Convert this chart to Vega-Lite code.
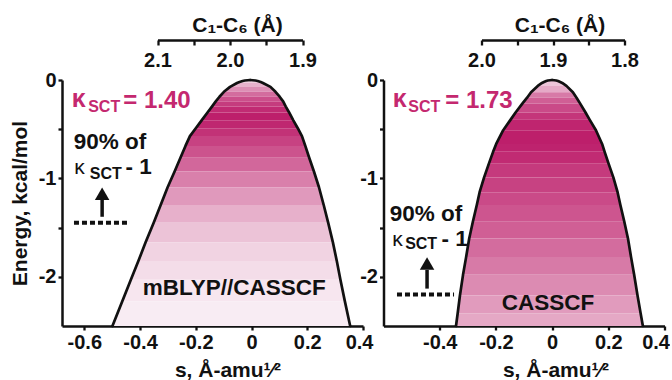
{
  "$schema": "https://vega.github.io/schema/vega-lite/v6.json",
  "padding": {"left": 9, "top": 14, "right": 0, "bottom": 0},
  "background": "white",
  "bounds": "flush",
  "spacing": 20.5,
  "config": {
    "font": "Liberation Sans",
    "view": {"stroke": null},
    "axis": {
      "labelFont": "Liberation Sans", "labelFontSize": 20, "labelFontWeight": "bold", "labelColor": "#111111",
      "titleFont": "Liberation Sans", "titleFontSize": 21, "titleFontWeight": "bold", "titleColor": "#111111",
      "domainColor": "#111111", "domainWidth": 2.5, "tickColor": "#111111", "tickWidth": 2.3, "tickSize": 4,
      "grid": false, "labelFlush": false, "labelOverlap": false, "labelPadding": 2
    }
  },
  "datasets": {
    "bandsA": [
      {"b": 1, "E": 0, "l": -0.005, "r": -0.005, "w": 0.15},
      {"b": 1, "E": -0.005, "l": -0.024, "r": 0.014, "w": 0.15},
      {"b": 1, "E": -0.01, "l": -0.032, "r": 0.022, "w": 0.15},
      {"b": 1, "E": -0.02, "l": -0.043, "r": 0.033, "w": 0.15},
      {"b": 1, "E": -0.03, "l": -0.052, "r": 0.041, "w": 0.15},
      {"b": 2, "E": -0.03, "l": -0.052, "r": 0.041, "w": 0.29},
      {"b": 2, "E": -0.07, "l": -0.077, "r": 0.068, "w": 0.29},
      {"b": 3, "E": -0.07, "l": -0.077, "r": 0.068, "w": 0.46},
      {"b": 3, "E": -0.12, "l": -0.099, "r": 0.086, "w": 0.46},
      {"b": 4, "E": -0.12, "l": -0.099, "r": 0.086, "w": 0.63},
      {"b": 4, "E": -0.17, "l": -0.115, "r": 0.101, "w": 0.63},
      {"b": 5, "E": -0.17, "l": -0.115, "r": 0.101, "w": 0.77},
      {"b": 5, "E": -0.22, "l": -0.129, "r": 0.114, "w": 0.77},
      {"b": 6, "E": -0.22, "l": -0.129, "r": 0.114, "w": 0.86},
      {"b": 6, "E": -0.27, "l": -0.142, "r": 0.123, "w": 0.86},
      {"b": 7, "E": -0.27, "l": -0.142, "r": 0.123, "w": 0.94},
      {"b": 7, "E": -0.33, "l": -0.158, "r": 0.135, "w": 0.94},
      {"b": 8, "E": -0.33, "l": -0.158, "r": 0.135, "w": 1.0},
      {"b": 8, "E": -0.41, "l": -0.179, "r": 0.150, "w": 1.0},
      {"b": 9, "E": -0.41, "l": -0.179, "r": 0.150, "w": 0.96},
      {"b": 9, "E": -0.49, "l": -0.200, "r": 0.166, "w": 0.96},
      {"b": 10, "E": -0.49, "l": -0.200, "r": 0.166, "w": 0.91},
      {"b": 10, "E": -0.57, "l": -0.221, "r": 0.181, "w": 0.91},
      {"b": 11, "E": -0.57, "l": -0.221, "r": 0.181, "w": 0.83},
      {"b": 11, "E": -0.67, "l": -0.237, "r": 0.193, "w": 0.83},
      {"b": 12, "E": -0.67, "l": -0.237, "r": 0.193, "w": 0.75},
      {"b": 12, "E": -0.79, "l": -0.255, "r": 0.207, "w": 0.75},
      {"b": 13, "E": -0.79, "l": -0.255, "r": 0.207, "w": 0.65},
      {"b": 13, "E": -0.93, "l": -0.276, "r": 0.224, "w": 0.65},
      {"b": 14, "E": -0.93, "l": -0.276, "r": 0.224, "w": 0.53},
      {"b": 14, "E": -1.09, "l": -0.301, "r": 0.242, "w": 0.53},
      {"b": 15, "E": -1.09, "l": -0.301, "r": 0.242, "w": 0.41},
      {"b": 15, "E": -1.27, "l": -0.326, "r": 0.259, "w": 0.41},
      {"b": 16, "E": -1.27, "l": -0.326, "r": 0.259, "w": 0.30},
      {"b": 16, "E": -1.45, "l": -0.351, "r": 0.275, "w": 0.30},
      {"b": 17, "E": -1.45, "l": -0.351, "r": 0.275, "w": 0.21},
      {"b": 17, "E": -1.65, "l": -0.380, "r": 0.292, "w": 0.21},
      {"b": 18, "E": -1.65, "l": -0.380, "r": 0.292, "w": 0.13},
      {"b": 18, "E": -1.84, "l": -0.406, "r": 0.306, "w": 0.13},
      {"b": 19, "E": -1.84, "l": -0.406, "r": 0.306, "w": 0.08},
      {"b": 19, "E": -2.03, "l": -0.433, "r": 0.319, "w": 0.08},
      {"b": 20, "E": -2.03, "l": -0.433, "r": 0.319, "w": 0.04},
      {"b": 20, "E": -2.25, "l": -0.464, "r": 0.335, "w": 0.04},
      {"b": 21, "E": -2.25, "l": -0.464, "r": 0.335, "w": 0.01},
      {"b": 21, "E": -2.5, "l": -0.499, "r": 0.354, "w": 0.01}
    ],
    "bandsB": [
      {"b": 1, "E": 0, "l": 0, "r": 0, "w": 0.2},
      {"b": 1, "E": -0.005, "l": -0.015, "r": 0.015, "w": 0.2},
      {"b": 1, "E": -0.01, "l": -0.021, "r": 0.021, "w": 0.2},
      {"b": 1, "E": -0.02, "l": -0.029, "r": 0.029, "w": 0.2},
      {"b": 1, "E": -0.03, "l": -0.036, "r": 0.036, "w": 0.2},
      {"b": 1, "E": -0.06, "l": -0.051, "r": 0.051, "w": 0.2},
      {"b": 2, "E": -0.06, "l": -0.051, "r": 0.051, "w": 0.33},
      {"b": 2, "E": -0.125, "l": -0.075, "r": 0.074, "w": 0.33},
      {"b": 3, "E": -0.125, "l": -0.075, "r": 0.074, "w": 0.56},
      {"b": 3, "E": -0.18, "l": -0.089, "r": 0.087, "w": 0.56},
      {"b": 4, "E": -0.18, "l": -0.089, "r": 0.087, "w": 0.69},
      {"b": 4, "E": -0.24, "l": -0.106, "r": 0.100, "w": 0.69},
      {"b": 5, "E": -0.24, "l": -0.106, "r": 0.100, "w": 0.79},
      {"b": 5, "E": -0.33, "l": -0.130, "r": 0.119, "w": 0.79},
      {"b": 6, "E": -0.33, "l": -0.130, "r": 0.119, "w": 0.89},
      {"b": 6, "E": -0.40, "l": -0.147, "r": 0.133, "w": 0.89},
      {"b": 7, "E": -0.40, "l": -0.147, "r": 0.133, "w": 0.97},
      {"b": 7, "E": -0.51, "l": -0.174, "r": 0.156, "w": 0.97},
      {"b": 8, "E": -0.51, "l": -0.174, "r": 0.156, "w": 1.0},
      {"b": 8, "E": -0.65, "l": -0.199, "r": 0.178, "w": 1.0},
      {"b": 9, "E": -0.65, "l": -0.199, "r": 0.178, "w": 0.98},
      {"b": 9, "E": -0.73, "l": -0.210, "r": 0.187, "w": 0.98},
      {"b": 10, "E": -0.73, "l": -0.210, "r": 0.187, "w": 0.94},
      {"b": 10, "E": -0.85, "l": -0.225, "r": 0.201, "w": 0.94},
      {"b": 11, "E": -0.85, "l": -0.225, "r": 0.201, "w": 0.87},
      {"b": 11, "E": -0.99, "l": -0.242, "r": 0.218, "w": 0.87},
      {"b": 12, "E": -0.99, "l": -0.242, "r": 0.218, "w": 0.83},
      {"b": 12, "E": -1.14, "l": -0.258, "r": 0.233, "w": 0.83},
      {"b": 13, "E": -1.14, "l": -0.258, "r": 0.233, "w": 0.79},
      {"b": 13, "E": -1.27, "l": -0.268, "r": 0.243, "w": 0.79},
      {"b": 14, "E": -1.27, "l": -0.268, "r": 0.243, "w": 0.74},
      {"b": 14, "E": -1.44, "l": -0.282, "r": 0.257, "w": 0.74},
      {"b": 15, "E": -1.44, "l": -0.282, "r": 0.257, "w": 0.69},
      {"b": 15, "E": -1.61, "l": -0.295, "r": 0.270, "w": 0.69},
      {"b": 16, "E": -1.61, "l": -0.295, "r": 0.270, "w": 0.63},
      {"b": 16, "E": -1.80, "l": -0.306, "r": 0.281, "w": 0.63},
      {"b": 17, "E": -1.80, "l": -0.306, "r": 0.281, "w": 0.56},
      {"b": 17, "E": -1.98, "l": -0.317, "r": 0.292, "w": 0.56},
      {"b": 18, "E": -1.98, "l": -0.317, "r": 0.292, "w": 0.48},
      {"b": 18, "E": -2.19, "l": -0.328, "r": 0.304, "w": 0.48},
      {"b": 19, "E": -2.19, "l": -0.328, "r": 0.304, "w": 0.40},
      {"b": 19, "E": -2.37, "l": -0.336, "r": 0.315, "w": 0.40},
      {"b": 20, "E": -2.37, "l": -0.336, "r": 0.315, "w": 0.34},
      {"b": 20, "E": -2.5, "l": -0.342, "r": 0.323, "w": 0.34}
    ],
    "notesA": [
      {"t": "κ", "s": -0.645, "E": -0.274, "role": "kap", "tone": "m"},
      {"t": "SCT", "s": -0.586, "E": -0.327, "role": "sub", "tone": "m"},
      {"t": "= 1.40", "s": -0.46, "E": -0.284, "role": "val", "tone": "m"},
      {"t": "90% of", "s": -0.638, "E": -0.699, "role": "big", "tone": "k"},
      {"t": "κ", "s": -0.636, "E": -0.952, "role": "kapk", "tone": "k"},
      {"t": "SCT", "s": -0.58, "E": -1.003, "role": "sub", "tone": "k"},
      {"t": "- 1", "s": -0.452, "E": -0.952, "role": "big", "tone": "k"},
      {"t": "mBLYP//CASSCF", "s": -0.39, "E": -2.188, "role": "big", "tone": "k"}
    ],
    "notesB": [
      {"t": "κ", "s": -0.567, "E": -0.274, "role": "kap", "tone": "m"},
      {"t": "SCT", "s": -0.512, "E": -0.327, "role": "sub", "tone": "m"},
      {"t": "= 1.73", "s": -0.38, "E": -0.284, "role": "val", "tone": "m"},
      {"t": "90% of", "s": -0.578, "E": -1.429, "role": "big", "tone": "k"},
      {"t": "κ", "s": -0.569, "E": -1.682, "role": "kapk", "tone": "k"},
      {"t": "SCT", "s": -0.523, "E": -1.722, "role": "sub", "tone": "k"},
      {"t": "- 1", "s": -0.394, "E": -1.682, "role": "big", "tone": "k"},
      {"t": "CASSCF", "s": -0.179, "E": -2.34, "role": "big", "tone": "k"}
    ],
    "arrowA": [
      {"k": "dash", "s": -0.637, "s2": -0.436, "E": -1.45},
      {"k": "shaft", "s": -0.536, "E": -1.39, "E2": -1.2},
      {"k": "head", "s": -0.536, "E": -1.155}
    ],
    "arrowB": [
      {"k": "dash", "s": -0.552, "s2": -0.349, "E": -2.18},
      {"k": "shaft", "s": -0.445, "E": -2.12, "E2": -1.93},
      {"k": "head", "s": -0.445, "E": -1.865}
    ],
    "axisA": [{"d": 2.1}, {"d": 1.9}],
    "axisB": [{"d": 2.0}, {"d": 1.8}]
  },
  "hconcat": [
    {
      "width": 301,
      "height": 246,
      "resolve": {"scale": {"x": "independent"}, "axis": {"x": "independent"}},
      "layer": [
        {
          "layer": [
            {
              "data": {"name": "bandsA"},
              "mark": {"type": "area", "orient": "horizontal"},
              "encoding": {
                "y": {"field": "E", "type": "quantitative", "scale": {"domain": [-2.5, 0], "nice": false, "zero": false},
                      "axis": {"title": "Energy, kcal/mol", "values": [0, -0.5, -1, -1.5, -2], "titlePadding": 8,
                               "labelExpr": "datum.value % 1 == 0 ? replace(format(datum.value, 'd'), '\u2212', '-') : ''"}},
                "x": {"field": "l", "type": "quantitative", "stack": null, "scale": {"domain": [-0.68, 0.4], "nice": false, "zero": false},
                      "axis": {"title": "s, Å-amu¹⁄²", "values": [-0.6, -0.4, -0.2, 0, 0.2, 0.4],
                               "labelExpr": "replace(format(datum.value, '.1~f'), '\u2212', '-')",
                               "labelFlush": true, "labelFlushOffset": 10,
                               "titleX": 165.5, "titleY": 50, "titleBaseline": "alphabetic", "titleAlign": "center"}},
                "x2": {"field": "r"},
                "detail": {"field": "b", "type": "nominal"},
                "color": {"field": "w", "type": "quantitative", "legend": null,
                          "scale": {"domain": [0, 1], "range": ["#f9eef4", "#bd1f6b"], "interpolate": "rgb"}}
              }
            },
            {
              "data": {"name": "bandsA"},
              "transform": [{"fold": ["l", "r"], "as": ["side", "s"]}],
              "mark": {"type": "line", "color": "#111111", "strokeWidth": 2.7, "strokeCap": "round", "strokeJoin": "round"},
              "encoding": {
                "x": {"field": "s", "type": "quantitative"},
                "y": {"field": "E", "type": "quantitative"},
                "detail": {"field": "side", "type": "nominal"},
                "order": {"field": "E", "type": "quantitative"}
              }
            },
            {
              "data": {"name": "arrowA"},
              "transform": [{"filter": "datum.k == 'dash'"}],
              "mark": {"type": "rule", "color": "#111111", "strokeWidth": 4, "strokeDash": [5, 3]},
              "encoding": {
                "x": {"field": "s", "type": "quantitative"},
                "x2": {"field": "s2"},
                "y": {"field": "E", "type": "quantitative"}
              }
            },
            {
              "data": {"name": "arrowA"},
              "transform": [{"filter": "datum.k == 'shaft'"}],
              "mark": {"type": "rule", "color": "#111111", "strokeWidth": 3.5},
              "encoding": {
                "x": {"field": "s", "type": "quantitative"},
                "y": {"field": "E", "type": "quantitative"},
                "y2": {"field": "E2"}
              }
            },
            {
              "data": {"name": "arrowA"},
              "transform": [{"filter": "datum.k == 'head'"}],
              "mark": {"type": "point", "shape": "triangle-up", "filled": true, "size": 210, "color": "#111111", "opacity": 1},
              "encoding": {
                "x": {"field": "s", "type": "quantitative"},
                "y": {"field": "E", "type": "quantitative"}
              }
            },
            {
              "data": {"name": "notesA"},
              "transform": [{"filter": "datum.role == 'kap'"}],
              "mark": {"type": "text", "align": "left", "baseline": "alphabetic", "fontSize": 25, "fontWeight": "bold", "font": "Liberation Sans"},
              "encoding": {
                "x": {"field": "s", "type": "quantitative"},
                "y": {"field": "E", "type": "quantitative"},
                "text": {"field": "t"},
                "color": {"condition": {"test": "datum.tone == 'm'", "value": "#c4286f"}, "value": "#111111"}
              }
            },
            {
              "data": {"name": "notesA"},
              "transform": [{"filter": "datum.role == 'kapk'"}],
              "mark": {"type": "text", "align": "left", "baseline": "alphabetic", "fontSize": 21, "fontWeight": "normal", "font": "Liberation Sans"},
              "encoding": {
                "x": {"field": "s", "type": "quantitative"},
                "y": {"field": "E", "type": "quantitative"},
                "text": {"field": "t"},
                "color": {"condition": {"test": "datum.tone == 'm'", "value": "#c4286f"}, "value": "#111111"}
              }
            },
            {
              "data": {"name": "notesA"},
              "transform": [{"filter": "datum.role == 'sub'"}],
              "mark": {"type": "text", "align": "left", "baseline": "alphabetic", "fontSize": 16, "fontWeight": "bold", "font": "Liberation Sans"},
              "encoding": {
                "x": {"field": "s", "type": "quantitative"},
                "y": {"field": "E", "type": "quantitative"},
                "text": {"field": "t"},
                "color": {"condition": {"test": "datum.tone == 'm'", "value": "#c4286f"}, "value": "#111111"}
              }
            },
            {
              "data": {"name": "notesA"},
              "transform": [{"filter": "datum.role == 'val'"}],
              "mark": {"type": "text", "align": "left", "baseline": "alphabetic", "fontSize": 24, "fontWeight": "bold", "font": "Liberation Sans"},
              "encoding": {
                "x": {"field": "s", "type": "quantitative"},
                "y": {"field": "E", "type": "quantitative"},
                "text": {"field": "t"},
                "color": {"condition": {"test": "datum.tone == 'm'", "value": "#c4286f"}, "value": "#111111"}
              }
            },
            {
              "data": {"name": "notesA"},
              "transform": [{"filter": "datum.role == 'big'"}],
              "mark": {"type": "text", "align": "left", "baseline": "alphabetic", "fontSize": 22.5, "fontWeight": "bold", "font": "Liberation Sans"},
              "encoding": {
                "x": {"field": "s", "type": "quantitative"},
                "y": {"field": "E", "type": "quantitative"},
                "text": {"field": "t"},
                "color": {"condition": {"test": "datum.tone == 'm'", "value": "#c4286f"}, "value": "#111111"}
              }
            }
          ]
        },
        {
          "data": {"name": "axisA"},
          "mark": {"type": "point", "opacity": 0},
          "encoding": {
            "x": {"field": "d", "type": "quantitative",
                  "scale": {"domain": [2.1, 1.9], "range": [95.5, 240.5], "nice": false, "zero": false},
                  "axis": {"orient": "top", "offset": 40, "values": [2.1, 2.05, 2.0, 1.95, 1.9],
                           "labelExpr": "datum.value == 2.05 || datum.value == 1.95 ? '' : format(datum.value, '.1f')",
                           "tickSize": -5, "labelBaseline": "top", "labelPadding": -5,
                           "title": "C₁-C₆ (Å)", "titleX": 175, "titleY": -9, "titleBaseline": "alphabetic", "titleAlign": "center"}}
          }
        }
      ]
    },
    {
      "width": 281,
      "height": 246,
      "resolve": {"scale": {"x": "independent"}, "axis": {"x": "independent"}},
      "layer": [
        {
          "layer": [
            {
              "data": {"name": "bandsB"},
              "mark": {"type": "area", "orient": "horizontal"},
              "encoding": {
                "y": {"field": "E", "type": "quantitative", "scale": {"domain": [-2.5, 0], "nice": false, "zero": false},
                      "axis": {"title": null, "values": [0, -0.5, -1, -1.5, -2],
                               "labelExpr": "datum.value % 1 == 0 ? replace(format(datum.value, 'd'), '\u2212', '-') : ''"}},
                "x": {"field": "l", "type": "quantitative", "stack": null, "scale": {"domain": [-0.6, 0.4], "nice": false, "zero": false},
                      "axis": {"title": "s, Å-amu¹⁄²", "values": [-0.4, -0.2, 0, 0.2, 0.4],
                               "labelExpr": "replace(format(datum.value, '.1~f'), '\u2212', '-')",
                               "labelFlush": true, "labelFlushOffset": 5,
                               "titleX": 172, "titleY": 50, "titleBaseline": "alphabetic", "titleAlign": "center"}},
                "x2": {"field": "r"},
                "detail": {"field": "b", "type": "nominal"},
                "color": {"field": "w", "type": "quantitative", "legend": null,
                          "scale": {"domain": [0, 1], "range": ["#f9eef4", "#bd1f6b"], "interpolate": "rgb"}}
              }
            },
            {
              "data": {"name": "bandsB"},
              "transform": [{"fold": ["l", "r"], "as": ["side", "s"]}],
              "mark": {"type": "line", "color": "#111111", "strokeWidth": 2.7, "strokeCap": "round", "strokeJoin": "round"},
              "encoding": {
                "x": {"field": "s", "type": "quantitative"},
                "y": {"field": "E", "type": "quantitative"},
                "detail": {"field": "side", "type": "nominal"},
                "order": {"field": "E", "type": "quantitative"}
              }
            },
            {
              "data": {"name": "arrowB"},
              "transform": [{"filter": "datum.k == 'dash'"}],
              "mark": {"type": "rule", "color": "#111111", "strokeWidth": 4, "strokeDash": [5, 3]},
              "encoding": {
                "x": {"field": "s", "type": "quantitative"},
                "x2": {"field": "s2"},
                "y": {"field": "E", "type": "quantitative"}
              }
            },
            {
              "data": {"name": "arrowB"},
              "transform": [{"filter": "datum.k == 'shaft'"}],
              "mark": {"type": "rule", "color": "#111111", "strokeWidth": 3.5},
              "encoding": {
                "x": {"field": "s", "type": "quantitative"},
                "y": {"field": "E", "type": "quantitative"},
                "y2": {"field": "E2"}
              }
            },
            {
              "data": {"name": "arrowB"},
              "transform": [{"filter": "datum.k == 'head'"}],
              "mark": {"type": "point", "shape": "triangle-up", "filled": true, "size": 210, "color": "#111111", "opacity": 1},
              "encoding": {
                "x": {"field": "s", "type": "quantitative"},
                "y": {"field": "E", "type": "quantitative"}
              }
            },
            {
              "data": {"name": "notesB"},
              "transform": [{"filter": "datum.role == 'kap'"}],
              "mark": {"type": "text", "align": "left", "baseline": "alphabetic", "fontSize": 25, "fontWeight": "bold", "font": "Liberation Sans"},
              "encoding": {
                "x": {"field": "s", "type": "quantitative"},
                "y": {"field": "E", "type": "quantitative"},
                "text": {"field": "t"},
                "color": {"condition": {"test": "datum.tone == 'm'", "value": "#c4286f"}, "value": "#111111"}
              }
            },
            {
              "data": {"name": "notesB"},
              "transform": [{"filter": "datum.role == 'kapk'"}],
              "mark": {"type": "text", "align": "left", "baseline": "alphabetic", "fontSize": 21, "fontWeight": "normal", "font": "Liberation Sans"},
              "encoding": {
                "x": {"field": "s", "type": "quantitative"},
                "y": {"field": "E", "type": "quantitative"},
                "text": {"field": "t"},
                "color": {"condition": {"test": "datum.tone == 'm'", "value": "#c4286f"}, "value": "#111111"}
              }
            },
            {
              "data": {"name": "notesB"},
              "transform": [{"filter": "datum.role == 'sub'"}],
              "mark": {"type": "text", "align": "left", "baseline": "alphabetic", "fontSize": 16, "fontWeight": "bold", "font": "Liberation Sans"},
              "encoding": {
                "x": {"field": "s", "type": "quantitative"},
                "y": {"field": "E", "type": "quantitative"},
                "text": {"field": "t"},
                "color": {"condition": {"test": "datum.tone == 'm'", "value": "#c4286f"}, "value": "#111111"}
              }
            },
            {
              "data": {"name": "notesB"},
              "transform": [{"filter": "datum.role == 'val'"}],
              "mark": {"type": "text", "align": "left", "baseline": "alphabetic", "fontSize": 24, "fontWeight": "bold", "font": "Liberation Sans"},
              "encoding": {
                "x": {"field": "s", "type": "quantitative"},
                "y": {"field": "E", "type": "quantitative"},
                "text": {"field": "t"},
                "color": {"condition": {"test": "datum.tone == 'm'", "value": "#c4286f"}, "value": "#111111"}
              }
            },
            {
              "data": {"name": "notesB"},
              "transform": [{"filter": "datum.role == 'big'"}],
              "mark": {"type": "text", "align": "left", "baseline": "alphabetic", "fontSize": 22.5, "fontWeight": "bold", "font": "Liberation Sans"},
              "encoding": {
                "x": {"field": "s", "type": "quantitative"},
                "y": {"field": "E", "type": "quantitative"},
                "text": {"field": "t"},
                "color": {"condition": {"test": "datum.tone == 'm'", "value": "#c4286f"}, "value": "#111111"}
              }
            }
          ]
        },
        {
          "data": {"name": "axisB"},
          "mark": {"type": "point", "opacity": 0},
          "encoding": {
            "x": {"field": "d", "type": "quantitative",
                  "scale": {"domain": [2.0, 1.8], "range": [98, 241], "nice": false, "zero": false},
                  "axis": {"orient": "top", "offset": 40, "values": [2.0, 1.95, 1.9, 1.85, 1.8],
                           "labelExpr": "datum.value == 1.95 || datum.value == 1.85 ? '' : format(datum.value, '.1f')",
                           "tickSize": -5, "labelBaseline": "top", "labelPadding": -5,
                           "title": "C₁-C₆ (Å)", "titleX": 176, "titleY": -9, "titleBaseline": "alphabetic", "titleAlign": "center"}}
          }
        }
      ]
    }
  ]
}
